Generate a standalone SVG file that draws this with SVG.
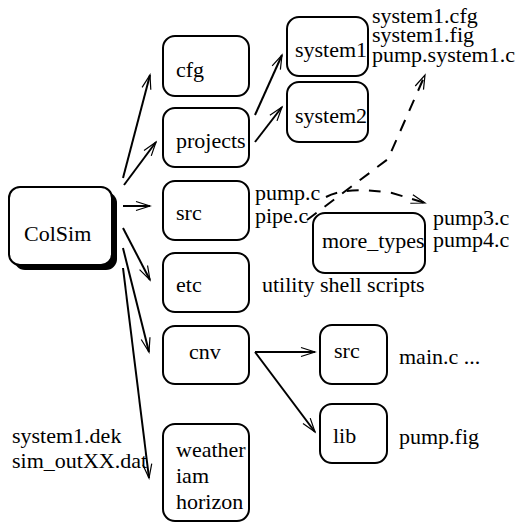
<svg xmlns="http://www.w3.org/2000/svg" width="516" height="524" viewBox="0 0 516 524">
<style>
text{font-family:'Liberation Serif','Times New Roman',serif;font-size:22px;fill:#000}
.box{fill:#fff;stroke:#000;stroke-width:2}
.c{fill:none;stroke:#000;stroke-width:2}
.d{fill:none;stroke:#000;stroke-width:2;stroke-dasharray:12,10}
</style>
<defs>
<marker id="ah" markerUnits="userSpaceOnUse" markerWidth="20" markerHeight="14" viewBox="-16 -7 20 14" refX="0" refY="0" orient="auto">
<path d="M-14,-4.5 L0,0 L-14,4.5" fill="none" stroke="#000" stroke-width="1.2"/>
</marker>
</defs>
<rect width="516" height="524" fill="#fff"/>
<g id="connectors">
<line class="c" x1="123" y1="178" x2="150" y2="75" marker-end="url(#ah)"/>
<line class="c" x1="124" y1="185" x2="156" y2="142" marker-end="url(#ah)"/>
<line class="c" x1="123" y1="206" x2="150" y2="206" marker-end="url(#ah)"/>
<line class="c" x1="123" y1="228" x2="150" y2="280" marker-end="url(#ah)"/>
<line class="c" x1="123" y1="248" x2="149" y2="352" marker-end="url(#ah)"/>
<line class="c" x1="123" y1="268" x2="149" y2="478" marker-end="url(#ah)"/>
<line class="c" x1="255" y1="115" x2="282" y2="55" marker-end="url(#ah)"/>
<line class="c" x1="255" y1="142" x2="282" y2="107" marker-end="url(#ah)"/>
<line class="c" x1="255" y1="352" x2="315" y2="352" marker-end="url(#ah)"/>
<line class="c" x1="255" y1="352" x2="315" y2="432" marker-end="url(#ah)"/>
<path class="d" d="M307,220 L388,159 L425,75" marker-end="url(#ah)"/>
<path class="d" d="M326,197 Q346,186 392,193 L425,203" marker-end="url(#ah)"/>
</g>
<g id="colsim">
<rect x="14" y="192" width="103" height="78" rx="11" fill="#000"/>
<rect class="box" x="9" y="187" width="103" height="78" rx="11" stroke-width="1.2"/>
<text x="24" y="241">ColSim</text>
</g>
<g id="cfg"><rect class="box" x="163" y="36" width="86" height="60" rx="12"/><text x="176" y="77">cfg</text></g>
<g id="projects"><rect class="box" x="163" y="108" width="86" height="59" rx="12"/><text x="176" y="148">projects</text></g>
<g id="src"><rect class="box" x="163" y="181" width="86" height="59" rx="12"/><text x="176" y="220">src</text></g>
<g id="etc"><rect class="box" x="163" y="253" width="86" height="59" rx="12"/><text x="176" y="292">etc</text></g>
<g id="cnv"><rect class="box" x="163" y="326" width="86" height="58" rx="12"/><text x="189" y="359">cnv</text></g>
<g id="weather"><rect class="box" x="163" y="424" width="86" height="97" rx="12"/><text x="176" y="457">weather</text><text x="176" y="483">iam</text><text x="176" y="509">horizon</text></g>
<g id="system1"><rect class="box" x="287" y="17" width="81" height="59" rx="12"/><text x="295" y="57">system1</text></g>
<g id="system2"><rect class="box" x="287" y="82" width="81" height="60" rx="12"/><text x="295" y="123">system2</text></g>
<g id="more_types"><rect class="box" x="313" y="213" width="112" height="60" rx="12"/><text x="322" y="248">more_types</text></g>
<g id="cnv_src"><rect class="box" x="320" y="325" width="67" height="59" rx="12"/><text x="334" y="358">src</text></g>
<g id="lib"><rect class="box" x="320" y="404" width="67" height="59" rx="12"/><text x="333" y="443">lib</text></g>
<g id="labels">
<text x="372" y="23">system1.cfg</text>
<text x="372" y="42">system1.fig</text>
<text x="372" y="62">pump.system1.c</text>
<text x="255" y="200">pump.c</text>
<text x="255" y="223">pipe.c</text>
<text x="433" y="225">pump3.c</text>
<text x="433" y="247">pump4.c</text>
<text x="262" y="292">utility shell scripts</text>
<text x="399" y="364">main.c ...</text>
<text x="399" y="444">pump.fig</text>
<text x="12" y="443">system1.dek</text>
<text x="12" y="468">sim_outXX.dat</text>
</g>
</svg>
